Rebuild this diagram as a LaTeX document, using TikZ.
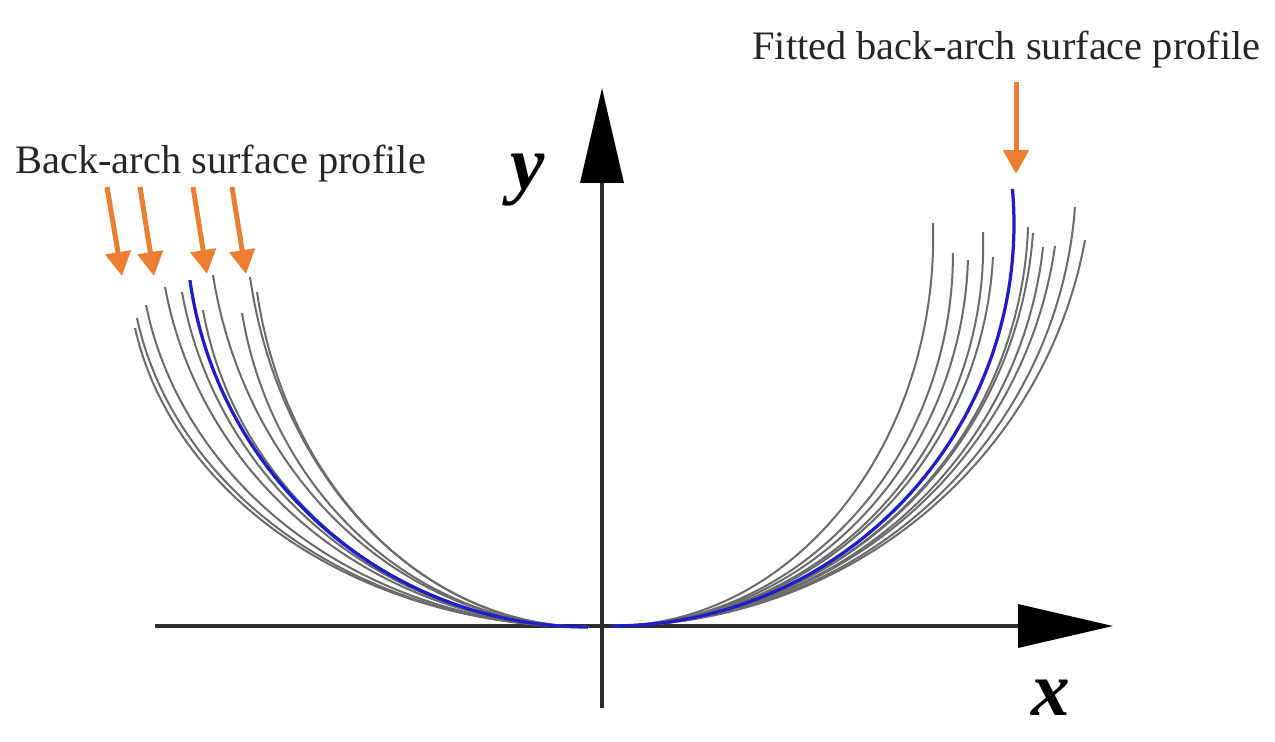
\documentclass[tikz,border=0pt]{standalone}
\usepackage{fontspec}
\setmainfont{Liberation Serif}
\usetikzlibrary{arrows.meta}
\definecolor{arrorange}{RGB}{237,125,49}
\definecolor{fitblue}{RGB}{30,30,200}
\definecolor{axisgray}{RGB}{45,45,45}
\tikzset{
  prof/.style={draw=black!58, line width=0.04cm},
  fitprof/.style={draw=fitblue, line width=0.065cm},
  axisline/.style={draw=axisgray, line width=0.07cm, -{Triangle[length=1.9cm,width=0.86cm,color=black]}},
  pointer/.style={draw=arrorange, line width=0.1cm, -{Triangle[length=0.48cm,width=0.5cm]}},
  lbl/.style={inner sep=0pt, text=black!85, font=\fontsize{23}{27}\selectfont},
  axlbl/.style={inner sep=0pt, font=\fontsize{44}{50}\selectfont\bfseries\itshape}
}
\newcommand\archL[4][prof]{\draw[#1] plot[domain=0:#4,samples=60,smooth] ({588-#2*sin(\x)},{627-#3*(1-cos(\x))});}
\newcommand\archR[4][prof]{\draw[#1] plot[domain=0:#4,samples=60,smooth] ({612+#2*sin(\x)},{626-#3*(1-cos(\x))});}
\begin{document}
\begin{tikzpicture}[x=0.02cm,y=-0.02cm]
\useasboundingbox (0,0) rectangle (1275,741);
% axes
\coordinate (xs) at (155,626);
\coordinate (xe) at (1113,626);
\coordinate (ys) at (602,708);
\coordinate (ye) at (602,88);
\draw[axisline] (xs) -- (xe);
\draw[axisline] (ys) -- (ye);
\node[axlbl, anchor=base] (ylab) at (528,189) {y};
\node[axlbl, anchor=base] (xlab) at (1051,715) {x};
% left profiles
\archL{460}{361.8}{80}
\archL{458}{373.9}{80}
\archL{448.8}{389.6}{80}
\archL{429.5}{411.4}{80}
\archL{412.3}{405.4}{80}
\archL{391}{383.6}{80}
\archL{380.8}{426}{80}
\archL{351.3}{380}{80}
\archL{343.2}{423.5}{80}
\archL{336.1}{405.4}{80}
\archL[fitprof]{402}{403}{82}
% right profiles
\archR{321.2}{389.4}{92}
\archR{341}{373}{90}
\archR{356.2}{379.2}{88}
\archR{371.2}{380.7}{92}
\archR{381.5}{389.4}{87}
\archR{416.3}{413.4}{88}
\archR{422}{422.5}{86}
\archR{433.4}{423.2}{84}
\archR{447.4}{441.5}{82}
\archR{464.1}{450.4}{86}
\archR{480.3}{467.1}{80}
\archR[fitprof]{402}{402}{95}
% labels
\node[lbl, anchor=base west] (lblL) at (15,173) {Back-arch surface profile};
\node[lbl, anchor=base west] (lblR) at (752,59) {Fitted back-arch surface profile};
% pointers
\coordinate (a1s) at (107,187); \coordinate (a1e) at (122,276);
\coordinate (a2s) at (140,187); \coordinate (a2e) at (154,276);
\coordinate (a3s) at (193,187); \coordinate (a3e) at (207,274);
\coordinate (a4s) at (232,187); \coordinate (a4e) at (246,274);
\coordinate (a5s) at (1016,82); \coordinate (a5e) at (1016,174);
\draw[pointer] (a1s) -- (a1e);
\draw[pointer] (a2s) -- (a2e);
\draw[pointer] (a3s) -- (a3e);
\draw[pointer] (a4s) -- (a4e);
\draw[pointer] (a5s) -- (a5e);
\end{tikzpicture}
\end{document}
